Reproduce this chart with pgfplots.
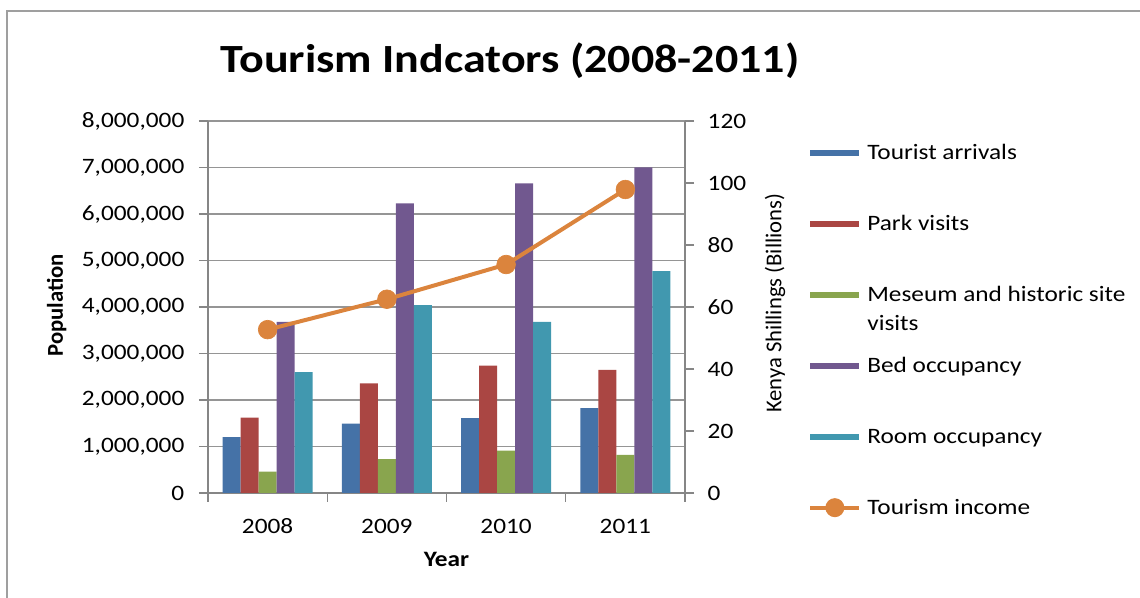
\documentclass[border=0pt]{standalone}
\usepackage{pgfplots}
\pgfplotsset{compat=1.18}
\usepackage{fontspec}
\setmainfont{Carlito}[FakeStretch=1.15]
\newfontfamily\rotfont{Carlito}
\definecolor{c1}{HTML}{4572A7}
\definecolor{c2}{HTML}{AA4643}
\definecolor{c3}{HTML}{89A54E}
\definecolor{c4}{HTML}{71588F}
\definecolor{c5}{HTML}{4198AF}
\definecolor{c6}{HTML}{DB843D}
\definecolor{axgray}{HTML}{868686}
\definecolor{gridgray}{HTML}{959595}
\pgfplotsset{
  barleg/.style={legend image code/.code={\path[##1, draw=none] (0pt,2.75pt) rectangle (36.75pt,7.25pt);}},
  lineleg/.style={legend image code/.code={\draw[c6, line width=3pt] (0pt,5pt) -- (36.75pt,5pt); \fill[c6] (18.4pt,5pt) circle (5.6pt);}},
  tickfont/.style={font=\fontsize{16.5}{20}\selectfont}
}
\begin{document}
\begin{tikzpicture}
\useasboundingbox (0pt,0pt) rectangle (855pt,448.5pt);
\draw[gray!75, line width=0.8pt] (5.25pt,-2pt) -- (5.25pt,440.25pt) -- (860pt,440.25pt);
\node[font=\fontsize{30}{36}\selectfont\bfseries, anchor=base] at (382.5pt,393.75pt) {Tourism Indcators (2008-2011)};
\begin{axis}[
  at={(156pt,78.75pt)}, anchor=south west,
  scale only axis, width=357.75pt, height=279pt,
  xmin=-0.5, xmax=3.5, ymin=0, ymax=8000000,
  ybar=0pt, bar width=13.5pt,
  axis x line*=bottom, axis y line*=left,
  axis line style={-, draw=axgray, line width=1pt},
  xtick={0,1,2,3}, xticklabels={2008,2009,2010,2011},
  minor xtick={-0.5,0.5,1.5,2.5,3.5},
  every major x tick/.append style={draw=none},
  ytick={0,1000000,2000000,3000000,4000000,5000000,6000000,7000000,8000000},
  tick align=outside, major tick length=6.75pt, minor tick length=6.75pt,
  tick style={draw=axgray, line width=1pt},
  ymajorgrids, grid style={draw=gridgray, line width=1pt},
  scaled y ticks=false,
  /pgf/number format/assume math mode=true,
  yticklabel style={/pgf/number format/fixed, /pgf/number format/1000 sep={,}, xshift=-7.5pt},
  tick label style={tickfont},
  xticklabel style={anchor=base, yshift=-24pt},
  xlabel={Year},
  xlabel style={at={(axis description cs:0.5,-0.18)}, anchor=center, font=\fontsize{16.5}{20}\selectfont\bfseries},
  ylabel={\rotfont\bfseries Population},
  ylabel style={at={(axis description cs:-0.317,0.505)}, anchor=center, font=\fontsize{17}{20}\selectfont},
]
\addplot[fill=c1, draw=none] coordinates {(0,1203200) (1,1490400) (2,1609100) (3,1822900)};
\addplot[fill=c2, draw=none] coordinates {(0,1620000) (1,2360000) (2,2740000) (3,2650000)};
\addplot[fill=c3, draw=none] coordinates {(0,460000) (1,730000) (2,910000) (3,820000)};
\addplot[fill=c4, draw=none] coordinates {(0,3680000) (1,6230000) (2,6660000) (3,7000000)};
\addplot[fill=c5, draw=none] coordinates {(0,2600000) (1,4040000) (2,3680000) (3,4770000)};
\end{axis}
\begin{axis}[
  at={(156pt,78.75pt)}, anchor=south west,
  scale only axis, width=357.75pt, height=279pt,
  xmin=-0.5, xmax=3.5, ymin=0, ymax=120,
  axis x line=none, axis y line*=right,
  axis line style={-, draw=axgray, line width=1pt},
  ytick={0,20,40,60,80,100,120},
  tick align=outside, major tick length=6.75pt,
  tick style={draw=axgray, line width=1pt},
  /pgf/number format/assume math mode=true,
  tick label style={tickfont},
  yticklabel style={xshift=6.75pt},
  ylabel={\rotfont Kenya Shillings (Billions)},
  ylabel style={at={(axis description cs:1.189,0.51)}, anchor=center, font=\fontsize{17}{20}\selectfont},
  legend style={draw=none, fill=none, at={(1.258,0.941)}, anchor=north west, inner sep=0pt,
    font=\fontsize{16.5}{21.75}\selectfont, row sep=37.25pt, column sep=4.5pt,
    cells={anchor=base west}, nodes={inner sep=0pt, text height=12pt, text depth=4pt}},
]
\addlegendimage{barleg, fill=c1}
\addlegendentry{Tourist arrivals}
\addlegendimage{barleg, fill=c2}
\addlegendentry{Park visits}
\addlegendimage{barleg, fill=c3}
\addlegendentry{\parbox[t]{8cm}{Meseum and historic site\\visits}}
\addlegendimage{barleg, fill=c4}
\addlegendentry{Bed occupancy}
\addlegendimage{barleg, fill=c5}
\addlegendentry{Room occupancy}
\addplot[c6, line width=3pt, mark=*, mark size=7pt, mark options={fill=c6, draw=c6, line width=0.5pt}, lineleg]
  coordinates {(0,52.7) (1,62.5) (2,73.7) (3,97.9)};
\addlegendentry{Tourism income}
\end{axis}
\end{tikzpicture}
\end{document}
